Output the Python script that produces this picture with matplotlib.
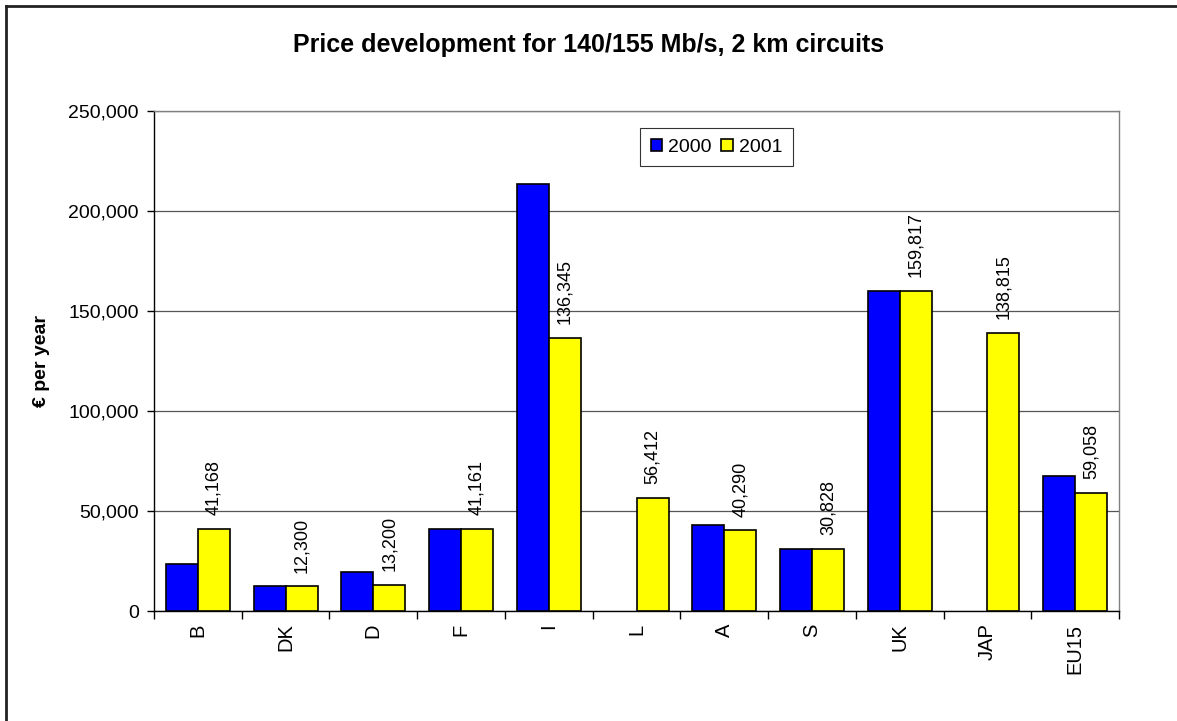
import matplotlib
matplotlib.use("Agg")
import matplotlib.pyplot as plt
import numpy as np
from matplotlib.lines import Line2D

categories = ["B", "DK", "D", "F", "I", "L", "A", "S", "UK", "JAP", "EU15"]
values_2000 = [23700, 12300, 19600, 41161, 213300, np.nan, 43200, 30828, 159817, np.nan, 67500]
values_2001 = [41168, 12300, 13200, 41161, 136345, 56412, 40290, 30828, 159817, 138815, 59058]
series_names = ["2000", "2001"]
yticks = [0, 50000, 100000, 150000, 200000, 250000]

plt.rcParams['font.family'] = ['Liberation Sans', 'DejaVu Sans']

fig = plt.figure(figsize=(11.77, 7.21), dpi=100)
ax = fig.add_axes([154/1177, 1 - 611/721, (1119 - 154)/1177, 500/721])

x = np.arange(len(categories))
w = 0.365
ax.bar(x - w/2, values_2000, width=w, color="#0000FF", edgecolor="black", linewidth=1.2,
       label=series_names[0], zorder=3)
ax.bar(x + w/2, values_2001, width=w, color="#FFFF00", edgecolor="black", linewidth=1.2,
       label=series_names[1], zorder=3)

for xi, v in zip(x, values_2001):
    ax.annotate(f"{v:,.0f}", (xi + w/2, v), xytext=(0, 10), textcoords="offset points",
                rotation=90, ha="center", va="bottom", fontsize=13, zorder=4)

ax.set_xlim(-0.5, len(categories) - 0.5)
ax.set_ylim(0, 250000)
ax.set_yticks(yticks)
ax.set_yticklabels([f"{t:,}" for t in yticks], fontsize=14)
ax.yaxis.grid(True, color="#555555", linewidth=0.9, zorder=0)
ax.set_axisbelow(True)

ax.set_xticks(x)
ax.set_xticklabels(categories, rotation=90, fontsize=14.5)
ax.tick_params(axis="x", length=0, pad=9)
ax.set_xticks(np.arange(-0.5, len(categories) + 0.5, 1), minor=True)
ax.tick_params(axis="x", which="minor", length=6, width=1, direction="out")
ax.tick_params(axis="y", length=5, width=1, direction="out", pad=6)

for s in ["top", "right"]:
    ax.spines[s].set_color("#808080")
    ax.spines[s].set_linewidth(1.0)
for s in ["left", "bottom"]:
    ax.spines[s].set_color("black")
    ax.spines[s].set_linewidth(1.0)

ax.set_ylabel("€ per year", fontsize=14, fontweight="bold")
ax.yaxis.set_label_coords((50 - 154)/965, 0.5)

fig.text(0.5, 1 - 45/721, "Price development for 140/155 Mb/s, 2 km circuits",
         ha="center", va="center", fontsize=18, fontweight="bold")

leg = ax.legend(loc="upper left", bbox_to_anchor=((640 - 154)/965, 1 - 17/500), ncol=2,
                fontsize=14, frameon=True, fancybox=False, handlelength=0.6, handleheight=0.6,
                handletextpad=0.3, columnspacing=0.5, borderpad=0.55, borderaxespad=0)
leg.get_frame().set_edgecolor("black")
leg.get_frame().set_linewidth(0.8)

# figure border (left and top)
fig.add_artist(Line2D([6/1177, 6/1177], [0, 1 - 6/721], transform=fig.transFigure,
                      color="#222222", linewidth=2))
fig.add_artist(Line2D([6/1177, 1], [1 - 6/721, 1 - 6/721], transform=fig.transFigure,
                      color="#222222", linewidth=2))

fig.savefig("out.png", dpi=100)
